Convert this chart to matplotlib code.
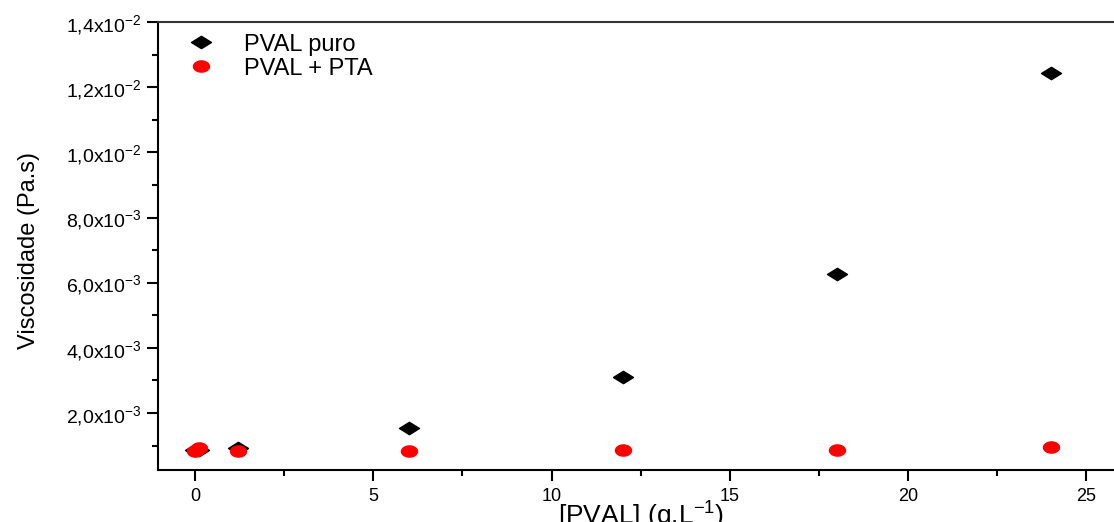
import matplotlib
matplotlib.use('Agg')
import matplotlib.pyplot as plt
from matplotlib.path import Path
from matplotlib.ticker import MultipleLocator, FuncFormatter
import numpy as np

plt.rcParams['font.family'] = ['Liberation Sans', 'DejaVu Sans']
plt.rcParams['mathtext.default'] = 'regular'

# [PVAL] em g/L
x_puro = [0, 0.12, 1.2, 6, 12, 18, 24]
y_puro = [0.86e-3, 0.87e-3, 0.93e-3, 1.54e-3, 3.10e-3, 6.27e-3, 12.42e-3]

x_pta = [0, 0.12, 1.2, 6, 12, 18, 24]
y_pta = [0.83e-3, 0.93e-3, 0.83e-3, 0.83e-3, 0.86e-3, 0.86e-3, 0.97e-3]

labels = ['PVAL puro', 'PVAL + PTA']

# flattened diamond and ellipse markers
diamond = Path([(-1, 0), (0, 0.62), (1, 0), (0, -0.62), (-1, 0)],
               [Path.MOVETO, Path.LINETO, Path.LINETO, Path.LINETO, Path.CLOSEPOLY])
t = np.linspace(0, 2 * np.pi, 40)
ellipse = Path(np.column_stack([np.cos(t), 0.7 * np.sin(t)]), closed=True)

fig = plt.figure(figsize=(11.14, 5.22), dpi=100)
ax = fig.add_axes([158 / 1114, 52 / 522, 956 / 1114, 448 / 522])

ax.plot(x_puro, y_puro, linestyle='none', marker=diamond, markersize=14.4,
        color='black', label=labels[0])
ax.plot(x_pta, y_pta, linestyle='none', marker=ellipse, markersize=11.5,
        color='red', label=labels[1])

ax.set_xlim(-1.04, 25.78)
ax.set_ylim(0.252e-3, 1.4e-2)

ax.xaxis.set_major_locator(MultipleLocator(5))
ax.xaxis.set_minor_locator(MultipleLocator(2.5))
ax.yaxis.set_major_locator(MultipleLocator(2e-3))
ax.yaxis.set_minor_locator(MultipleLocator(1e-3))


def sci_fmt(v, pos):
    if v <= 0:
        return ''
    e = int(np.floor(np.log10(v) + 1e-9))
    m = v / 10 ** e
    return ('%.1f' % m).replace('.', ',') + 'x10$^{%d}$' % e


ax.yaxis.set_major_formatter(FuncFormatter(sci_fmt))

ax.spines['right'].set_visible(False)
ax.spines['top'].set_color('#333333')
for s in ['left', 'bottom', 'top']:
    ax.spines[s].set_linewidth(1.5)

ax.tick_params(which='major', direction='out', length=8, width=1.5, labelsize=14)
ax.tick_params(which='minor', direction='out', length=4, width=1.5)
ax.tick_params(axis='x', labelsize=13, pad=5)

ax.set_ylabel('Viscosidade (Pa.s)', fontsize=17)
ax.yaxis.set_label_coords(-0.123, 0.49)
ax.set_xlabel('[PVAL] (g.L$^{-1}$)', fontsize=19)
ax.xaxis.set_label_coords(0.505, -0.066)

ax.legend(loc='upper left', bbox_to_anchor=(0.026, 0.974), frameon=False,
          fontsize=17, labelspacing=0.08, handletextpad=1.1, borderaxespad=0,
          borderpad=0, handlelength=1.5)

fig.savefig('out.png', dpi=100)
